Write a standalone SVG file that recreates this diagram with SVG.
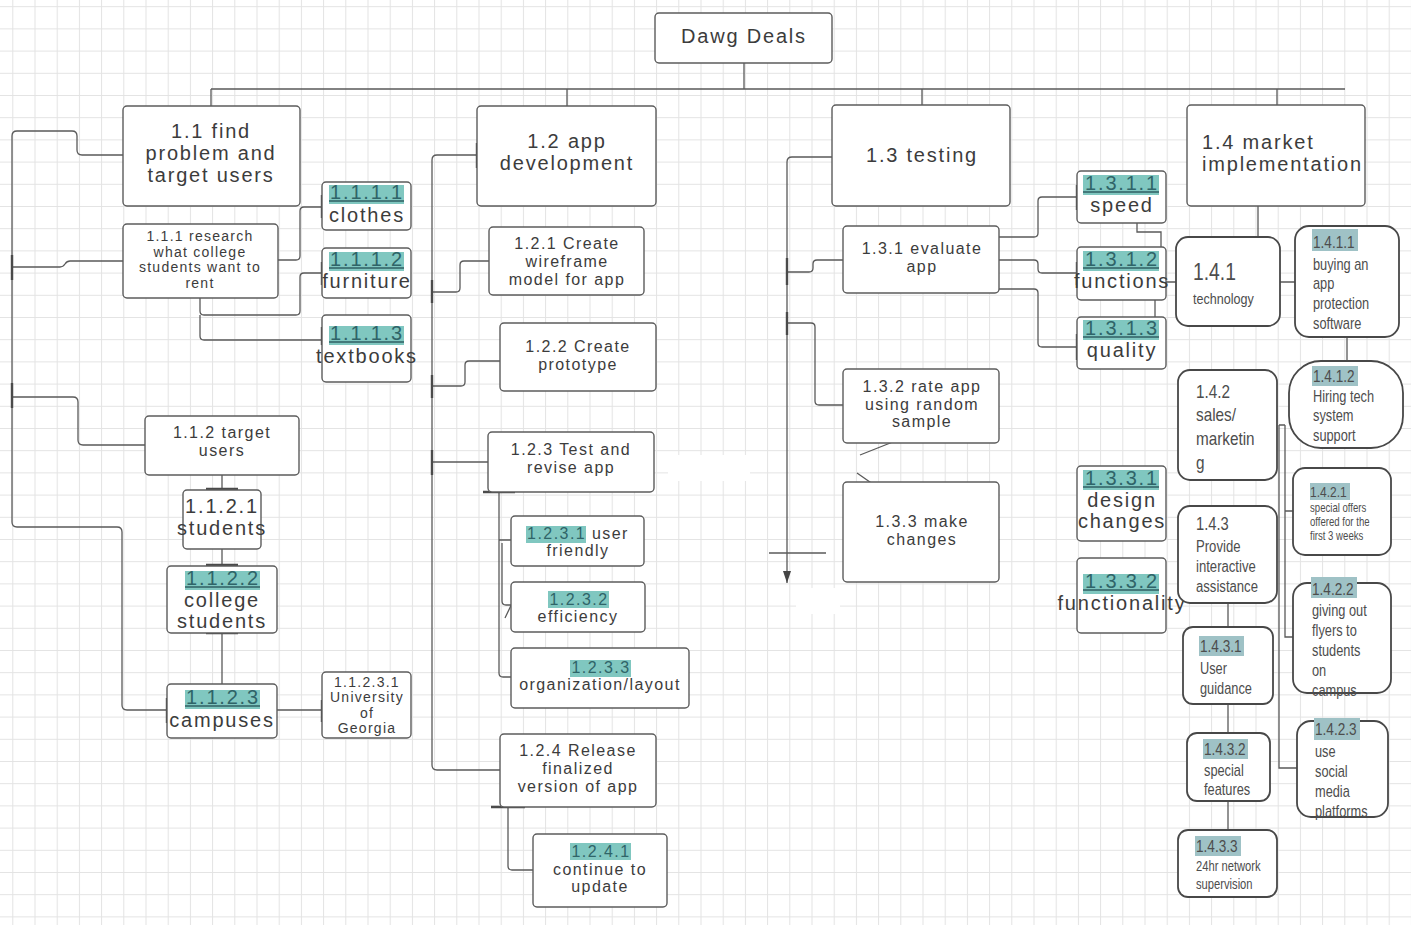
<svg xmlns="http://www.w3.org/2000/svg" width="1411" height="930" viewBox="0 0 1411 930">
<defs>
<pattern id="grid" x="12.3" y="6.2" width="22.2" height="22.2" patternUnits="userSpaceOnUse">
<path d="M0.5,0 V22.2 M0,0.5 H22.2" fill="none" stroke="#e3e3e3" stroke-width="1"/>
</pattern>
<marker id="arr" markerWidth="14" markerHeight="10" refX="12" refY="5" orient="auto" markerUnits="userSpaceOnUse">
<path d="M0,1 L12,5 L0,9 Z" fill="#444"/>
</marker>
<style>
.box{fill:#fff;stroke:#5c5c5c;stroke-width:1.4}
.rb{fill:#fff;stroke:#484848;stroke-width:1.8}
.ln{fill:none;stroke:#5a5a5a;stroke-width:1.3}
.tk{fill:none;stroke:#4a4a4a;stroke-width:2.4}
.t{font-family:"Liberation Sans",Arial,sans-serif;fill:#3c3c3c;text-anchor:middle;letter-spacing:0.09em}
.s20{font-size:20px}
.s16{font-size:16px}
.s14{font-size:14px}
.hn{fill:#2f6468}
.hl{fill:#80c7c0}
.hl2{fill:#9fc2c6}
.ul{stroke:#2f5f63;stroke-width:1.5}
.n{font-family:"Liberation Sans",Arial,sans-serif;fill:#4d4d4d}
</style>
</defs>
<rect x="0" y="0" width="1411" height="930" fill="#fff"/>
<rect x="0" y="0" width="1411" height="925" fill="url(#grid)"/>
<rect x="668" y="455" width="82" height="26" fill="#fff"/>
<rect x="796" y="588" width="44" height="26" fill="#fff"/>

<g id="connectors">
<path class="ln" d="M744,63 V89 M211,89 H1345 M211,89 V106 M567,89 V106 M922,89 V105 M1277,89 V105"/>
<!-- 1.1 -->
<path class="ln" d="M123,155 H82 Q77,155 77,150 V136 Q77,131 72,131 H17 Q12,131 12,136 V522 Q12,527 17,527 H117 Q122,527 122,532 V705 Q122,710 127,710 H167"/>
<path class="ln" d="M12,267 H60 C66,267 64,261 70,261 H123"/>
<path class="ln" d="M12,397 H73 Q78,397 78,402 V440 Q78,445 83,445 H145"/>
<path class="ln" d="M278,260 H296 Q300,260 300,256 V211 Q300,207 304,207 H322"/>
<path class="ln" d="M200,298 V311 Q200,315 204,315 H296 Q300,315 300,311 V277 Q300,273 304,273 H322"/>
<path class="ln" d="M200,315 V336 Q200,340 204,340 H322"/>
<path class="ln" d="M222,475 V490 M222,549 V566 M222,633 V684 M277,710 H322"/>
<path class="tk" d="M12,255 V280 M12,383 V408 M322,195 V218 M322,262 V285 M322,327 V345 M322,700 V722 M167,698 V723"/>
<path class="tk" d="M206,489 H238 M206,565 H238 M206,633 H238" stroke-width="1.6"/>
<!-- 1.2 -->
<path class="ln" d="M477,155 H437 Q432,155 432,160 V765 Q432,770 437,770 H500"/>
<path class="ln" d="M432,292 H456 Q460,292 460,288 V265 Q460,261 464,261 H489"/>
<path class="ln" d="M432,386 H461 Q465,386 465,382 V365 Q465,361 469,361 H500"/>
<path class="ln" d="M432,462 H488"/>
<path class="ln" d="M499,492 V673 Q499,677 503,677 H511 M499,540 H511 M502,543 V601 Q502,605 506,605 H511 M505,618 L516,595"/>
<path class="ln" d="M508,807 V866 Q508,870 512,870 H533"/>
<path class="tk" d="M477,143 V168 M432,280 V303 M432,375 V398 M432,450 V475"/>
<path class="tk" d="M483,492 H515 M491,807 H525" stroke-width="1.6"/>
<!-- 1.3 -->
<path class="ln" d="M832,157 H792 Q787,157 787,162 V583" marker-end="url(#arr)"/>
<path class="ln" d="M769,553 H826"/>
<path class="ln" d="M787,272 H809 Q813,272 813,268 V264 Q813,260 817,260 H843"/>
<path class="ln" d="M787,323 H811 Q815,323 815,327 V401 Q815,405 819,405 H843"/>
<path class="ln" d="M999,237 H1034 Q1038,237 1038,233 V201 Q1038,197 1042,197 H1077"/>
<path class="ln" d="M999,260 H1034 Q1038,260 1038,264 V269 Q1038,273 1042,273 H1077"/>
<path class="ln" d="M999,289 H1034 Q1038,289 1038,293 V343 Q1038,347 1042,347 H1077"/>
<path class="ln" d="M860,455 L918,432 M857,473 L920,517"/>
<path class="ln" d="M1137,185 V232 H1161 V282 H1176 M1155,297 V347 H1143"/>
<path class="tk" d="M787,258 V285 M787,312 V335 M1077,185 V210 M1077,262 V285 M1077,334 V360"/>
<!-- 1.4 -->
<path class="ln" d="M1258,195 V237 M1280,282 H1295 M1347,337 V361 M1228,603 V627 M1228,688 V742 M1228,801 V830" stroke-width="1.6"/>
<path class="ln" d="M1279,425 V768 H1297 M1285,425 V637 H1293 M1279,425 H1285 M1285,511 H1293" stroke-width="1.6"/>
</g>

<g id="root"><rect class="box" x="655" y="13" width="177" height="50" rx="4"/><text class="t s20" x="744" y="43">Dawg Deals</text></g>

<g id="n1_1"><rect class="box" x="123" y="106" width="177" height="100" rx="4"/><text class="t s20"><tspan x="211" y="138">1.1 find</tspan><tspan x="211" y="160">problem and</tspan><tspan x="211" y="182">target users</tspan></text></g>
<g id="n1_1_1"><rect class="box" x="123" y="224" width="155" height="74" rx="4"/><text class="t s14"><tspan x="200" y="241">1.1.1 research</tspan><tspan x="200" y="256.5">what college</tspan><tspan x="200" y="272">students want to</tspan><tspan x="200" y="287.5">rent</tspan></text></g>
<g id="n1_1_1_1"><rect class="box" x="322" y="182" width="89" height="48" rx="4"/><rect class="hl" x="329" y="185" width="75" height="19"/><line class="ul" x1="329" y1="201" x2="404" y2="201"/><text class="t s20 hn" x="367" y="199">1.1.1.1</text><text class="t s20" x="367" y="222">clothes</text></g>
<g id="n1_1_1_2"><rect class="box" x="322" y="248" width="89" height="50" rx="4"/><rect class="hl" x="329" y="252" width="75" height="19"/><line class="ul" x1="329" y1="268" x2="404" y2="268"/><text class="t s20 hn" x="367" y="266">1.1.1.2</text><text class="t s20" x="367" y="288">furniture</text></g>
<g id="n1_1_1_3"><rect class="box" x="322" y="315" width="89" height="67" rx="4"/><rect class="hl" x="329" y="326" width="75" height="19"/><line class="ul" x1="329" y1="342" x2="404" y2="342"/><text class="t s20 hn" x="367" y="340">1.1.1.3</text><text class="t s20" x="367" y="363">textbooks</text></g>
<g id="n1_1_2"><rect class="box" x="145" y="416" width="154" height="59" rx="4"/><text class="t s16"><tspan x="222" y="438">1.1.2 target</tspan><tspan x="222" y="456">users</tspan></text></g>
<g id="n1_1_2_1"><rect class="box" x="183" y="490" width="78" height="59" rx="4"/><text class="t s20"><tspan x="222" y="513">1.1.2.1</tspan><tspan x="222" y="535">students</tspan></text></g>
<g id="n1_1_2_2"><rect class="box" x="167" y="566" width="110" height="67" rx="4"/><rect class="hl" x="185" y="571" width="75" height="19"/><line class="ul" x1="185" y1="587" x2="260" y2="587"/><text class="t s20 hn" x="223" y="585">1.1.2.2</text><text class="t s20"><tspan x="222" y="607">college</tspan><tspan x="222" y="628">students</tspan></text></g>
<g id="n1_1_2_3"><rect class="box" x="167" y="684" width="110" height="54" rx="4"/><rect class="hl" x="185" y="690" width="75" height="19"/><line class="ul" x1="185" y1="706" x2="260" y2="706"/><text class="t s20 hn" x="223" y="704">1.1.2.3</text><text class="t s20" x="222" y="727">campuses</text></g>
<g id="n1_1_2_3_1"><rect class="box" x="322" y="672" width="89" height="66" rx="4"/><text class="t s14"><tspan x="367" y="687">1.1.2.3.1</tspan><tspan x="367" y="702">University</tspan><tspan x="367" y="718">of</tspan><tspan x="367" y="733">Georgia</tspan></text></g>

<g id="n1_2"><rect class="box" x="477" y="106" width="179" height="100" rx="4"/><text class="t s20"><tspan x="567" y="148">1.2 app</tspan><tspan x="567" y="170">development</tspan></text></g>
<g id="n1_2_1"><rect class="box" x="489" y="227" width="155" height="68" rx="4"/><text class="t s16"><tspan x="567" y="249">1.2.1 Create</tspan><tspan x="567" y="267">wireframe</tspan><tspan x="567" y="285">model for app</tspan></text></g>
<g id="n1_2_2"><rect class="box" x="500" y="323" width="156" height="68" rx="4"/><text class="t s16"><tspan x="578" y="352">1.2.2 Create</tspan><tspan x="578" y="370">prototype</tspan></text></g>
<g id="n1_2_3"><rect class="box" x="488" y="432" width="166" height="60" rx="4"/><text class="t s16"><tspan x="571" y="455">1.2.3 Test and</tspan><tspan x="571" y="473">revise app</tspan></text></g>
<g id="n1_2_3_1"><rect class="box" x="511" y="516" width="133" height="50" rx="4"/><rect class="hl" x="526" y="526" width="60" height="17"/><text class="t s16" x="578" y="539"><tspan class="hn">1.2.3.1</tspan> user</text><text class="t s16" x="578" y="556">friendly</text></g>
<g id="n1_2_3_2"><rect class="box" x="511" y="582" width="134" height="50" rx="4"/><rect class="hl" x="548" y="591" width="61" height="17"/><text class="t s16 hn" x="579" y="605">1.2.3.2</text><text class="t s16" x="578" y="622">efficiency</text></g>
<g id="n1_2_3_3"><rect class="box" x="511" y="648" width="178" height="60" rx="4"/><rect class="hl" x="570" y="660" width="61" height="17"/><text class="t s16 hn" x="601" y="673">1.2.3.3</text><text class="t s16" x="600" y="690">organization/layout</text></g>
<g id="n1_2_4"><rect class="box" x="500" y="734" width="156" height="73" rx="4"/><text class="t s16"><tspan x="578" y="756">1.2.4 Release</tspan><tspan x="578" y="774">finalized</tspan><tspan x="578" y="792">version of app</tspan></text></g>
<g id="n1_2_4_1"><rect class="box" x="533" y="834" width="134" height="73" rx="4"/><rect class="hl" x="570" y="843" width="61" height="17"/><text class="t s16 hn" x="601" y="857">1.2.4.1</text><text class="t s16"><tspan x="600" y="875">continue to</tspan><tspan x="600" y="892">update</tspan></text></g>

<g id="n1_3"><rect class="box" x="832" y="105" width="178" height="101" rx="4"/><text class="t s20" x="922" y="162">1.3 testing</text></g>
<g id="n1_3_1"><rect class="box" x="843" y="226" width="156" height="67" rx="4"/><text class="t s16"><tspan x="922" y="254">1.3.1 evaluate</tspan><tspan x="922" y="272">app</tspan></text></g>
<g id="n1_3_2"><rect class="box" x="843" y="369" width="156" height="74" rx="4"/><text class="t s16"><tspan x="922" y="392">1.3.2 rate app</tspan><tspan x="922" y="410">using random</tspan><tspan x="922" y="427">sample</tspan></text></g>
<g id="n1_3_3"><rect class="box" x="843" y="482" width="156" height="100" rx="4"/><text class="t s16"><tspan x="922" y="527">1.3.3 make</tspan><tspan x="922" y="545">changes</tspan></text></g>
<g id="n1_3_1_1"><rect class="box" x="1077" y="171" width="89" height="52" rx="4"/><rect class="hl" x="1083" y="175" width="76" height="20"/><line class="ul" x1="1083" y1="192" x2="1159" y2="192"/><text class="t s20 hn" x="1122" y="190">1.3.1.1</text><text class="t s20" x="1122" y="212">speed</text></g>
<g id="n1_3_1_2"><rect class="box" x="1077" y="247" width="89" height="53" rx="4"/><rect class="hl" x="1083" y="251" width="76" height="20"/><line class="ul" x1="1083" y1="268" x2="1159" y2="268"/><text class="t s20 hn" x="1122" y="266">1.3.1.2</text><text class="t s20" x="1122" y="288">functions</text></g>
<g id="n1_3_1_3"><rect class="box" x="1077" y="317" width="89" height="52" rx="4"/><rect class="hl" x="1083" y="320" width="76" height="20"/><line class="ul" x1="1083" y1="337" x2="1159" y2="337"/><text class="t s20 hn" x="1122" y="335">1.3.1.3</text><text class="t s20" x="1122" y="357">quality</text></g>
<g id="n1_3_3_1"><rect class="box" x="1077" y="466" width="89" height="75" rx="4"/><rect class="hl" x="1083" y="470" width="76" height="20"/><line class="ul" x1="1083" y1="487" x2="1159" y2="487"/><text class="t s20 hn" x="1122" y="485">1.3.3.1</text><text class="t s20"><tspan x="1122" y="507">design</tspan><tspan x="1122" y="528">changes</tspan></text></g>
<g id="n1_3_3_2"><rect class="box" x="1077" y="558" width="89" height="75" rx="4"/><rect class="hl" x="1083" y="574" width="76" height="20"/><line class="ul" x1="1083" y1="590" x2="1159" y2="590"/><text class="t s20 hn" x="1122" y="588">1.3.3.2</text><text class="t s20" x="1122" y="610">functionality</text></g>

<g id="n1_4"><rect class="box" x="1187" y="105" width="178" height="101" rx="4"/><text class="t s20" style="text-anchor:start"><tspan x="1202" y="149">1.4 market</tspan><tspan x="1202" y="171">implementation</tspan></text></g>
<g id="n1_4_1"><rect class="rb" x="1176" y="237" width="104" height="89" rx="12"/><g transform="translate(1193,0) scale(0.84,1)"><text class="n" x="0" y="280" font-size="23">1.4.1</text><text class="n" x="0" y="304" font-size="15">technology</text></g></g>
<g id="n1_4_1_1"><rect class="rb" x="1295" y="226" width="104" height="111" rx="14"/><rect class="hl2" x="1312" y="229" width="46" height="22"/><g transform="translate(1313,0) scale(0.8,1)"><text class="n" x="0" y="248" font-size="17">1.4.1.1</text><text class="n" font-size="16"><tspan x="0" y="270">buying an</tspan><tspan x="0" y="289.5">app</tspan><tspan x="0" y="309">protection</tspan><tspan x="0" y="329">software</tspan></text></g></g>
<g id="n1_4_1_2"><rect class="rb" x="1289" y="361" width="114" height="87" rx="32"/><rect class="hl2" x="1312" y="366" width="46" height="20"/><g transform="translate(1313,0) scale(0.8,1)"><text class="n" x="0" y="382" font-size="17">1.4.1.2</text><text class="n" font-size="16"><tspan x="0" y="402">Hiring tech</tspan><tspan x="0" y="421.5">system</tspan><tspan x="0" y="441">support</tspan></text></g></g>
<g id="n1_4_2"><rect class="rb" x="1178" y="370" width="99" height="110" rx="12"/><g transform="translate(1196,0) scale(0.85,1)"><text class="n" font-size="18"><tspan x="0" y="398">1.4.2</tspan><tspan x="0" y="421">sales/</tspan><tspan x="0" y="445">marketin</tspan><tspan x="0" y="469">g</tspan></text></g></g>
<g id="n1_4_2_1"><rect class="rb" x="1293" y="468" width="98" height="87" rx="12"/><rect class="hl2" x="1310" y="483" width="40" height="17"/><g transform="translate(1310,0) scale(0.8,1)"><text class="n" x="0" y="497" font-size="15">1.4.2.1</text><text class="n" font-size="12"><tspan x="0" y="512">special offers</tspan><tspan x="0" y="526">offered for the</tspan><tspan x="0" y="540">first 3 weeks</tspan></text></g></g>
<g id="n1_4_2_2"><rect class="rb" x="1293" y="583" width="98" height="110" rx="14"/><rect class="hl2" x="1311" y="577" width="46" height="21"/><g transform="translate(1312,0) scale(0.8,1)"><text class="n" x="0" y="595" font-size="17">1.4.2.2</text><text class="n" font-size="16"><tspan x="0" y="616">giving out</tspan><tspan x="0" y="636">flyers to</tspan><tspan x="0" y="656">students</tspan><tspan x="0" y="676">on</tspan><tspan x="0" y="696">campus</tspan></text></g></g>
<g id="n1_4_2_3"><rect class="rb" x="1297" y="721" width="91" height="96" rx="14"/><rect class="hl2" x="1314" y="718" width="46" height="22"/><g transform="translate(1315,0) scale(0.8,1)"><text class="n" x="0" y="735" font-size="17">1.4.2.3</text><text class="n" font-size="16"><tspan x="0" y="757">use</tspan><tspan x="0" y="777">social</tspan><tspan x="0" y="797">media</tspan><tspan x="0" y="817">platforms</tspan></text></g></g>
<g id="n1_4_3"><rect class="rb" x="1178" y="506" width="99" height="97" rx="12"/><g transform="translate(1196,0) scale(0.82,1)"><text class="n" x="0" y="530" font-size="18">1.4.3</text><text class="n" font-size="16"><tspan x="0" y="552">Provide</tspan><tspan x="0" y="572">interactive</tspan><tspan x="0" y="592">assistance</tspan></text></g></g>
<g id="n1_4_3_1"><rect class="rb" x="1183" y="627" width="90" height="77" rx="10"/><rect class="hl2" x="1199" y="636" width="45" height="20"/><g transform="translate(1200,0) scale(0.8,1)"><text class="n" x="0" y="652" font-size="17">1.4.3.1</text><text class="n" font-size="16"><tspan x="0" y="674">User</tspan><tspan x="0" y="694">guidance</tspan></text></g></g>
<g id="n1_4_3_2"><rect class="rb" x="1187" y="733" width="83" height="68" rx="10"/><rect class="hl2" x="1203" y="739" width="45" height="20"/><g transform="translate(1204,0) scale(0.8,1)"><text class="n" x="0" y="755" font-size="17">1.4.3.2</text><text class="n" font-size="16"><tspan x="0" y="776">special</tspan><tspan x="0" y="795">features</tspan></text></g></g>
<g id="n1_4_3_3"><rect class="rb" x="1178" y="830" width="99" height="67" rx="10"/><rect class="hl2" x="1195" y="836" width="46" height="20"/><g transform="translate(1196,0) scale(0.8,1)"><text class="n" x="0" y="852" font-size="17">1.4.3.3</text><text class="n" font-size="14"><tspan x="0" y="871">24hr network</tspan><tspan x="0" y="889">supervision</tspan></text></g></g>
</svg>
